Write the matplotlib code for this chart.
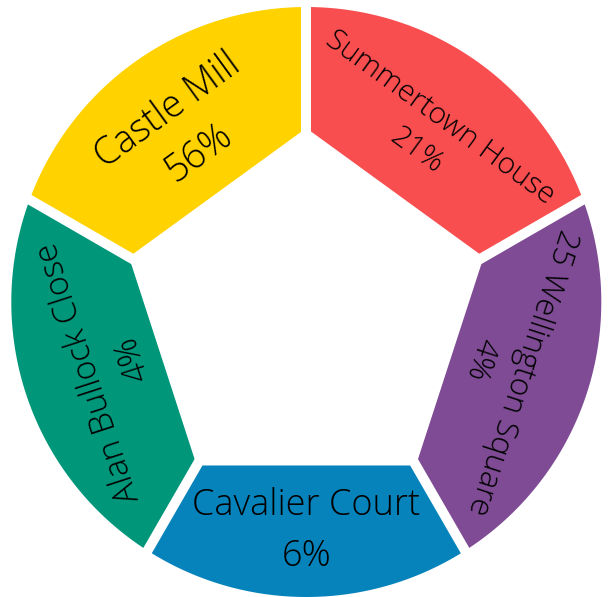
import matplotlib.pyplot as plt
import numpy as np
from matplotlib.patches import Polygon

# segments, clockwise from the top
names = ["Summertown House", "25 Wellington Square", "Cavalier Court",
         "Alan Bullock Close", "Castle Mill"]
shares = [21, 4, 6, 4, 56]
colors = ["#F84E4F", "#7E4B94", "#0783BB", "#00967A", "#FFD200"]

# layout (pixel units, origin at circle centre)
OUTER_R = 295.0
HOLE_CENTER = np.array([0.0, -12.6])
HOLE_R = 186.5
GAP_DIRS = [90, 30, -60, -120, 150]
GAP_PX = 10
LABEL_R = [207, 205, 229, 206, 210]
LABEL_SIZE = [21.5, 22.5, 26, 24, 27]


def unit(deg):
    a = np.deg2rad(deg)
    return np.array([np.cos(a), np.sin(a)])


def ray_to_circle(p, d, r):
    b = p @ d
    c = p @ p - r * r
    t = -b + np.sqrt(b * b - c)
    return p + t * d


n = len(names)
step = 360.0 / n
vert_ang = [90 - step * k for k in range(n)]
verts = [HOLE_CENTER + HOLE_R * unit(a) for a in vert_ang]
outer = [ray_to_circle(v, unit(g), OUTER_R) for v, g in zip(verts, GAP_DIRS)]

fig = plt.figure(figsize=(6.13, 5.97), dpi=100)
ax = fig.add_axes([0, 0, 1, 1])
ax.set_xlim(-306.3, 306.7)
ax.set_ylim(-295, 302)
ax.axis("off")

for i in range(n):
    j = (i + 1) % n
    a0 = np.degrees(np.arctan2(outer[i][1], outer[i][0]))
    a1 = np.degrees(np.arctan2(outer[j][1], outer[j][0]))
    while a1 > a0:
        a1 -= 360
    arc = np.array([OUTER_R * unit(a) for a in np.linspace(a0, a1, 80)])
    pts = np.vstack([verts[i], arc, verts[j]])
    ax.add_patch(Polygon(pts, closed=True, facecolor=colors[i], edgecolor="none"))

# white gaps between segments
lw = GAP_PX * 72 / fig.dpi
for v, g in zip(verts, GAP_DIRS):
    d = unit(g)
    p0 = v - 15 * d
    p1 = v + 200 * d
    ax.plot([p0[0], p1[0]], [p0[1], p1[1]], color="white", lw=lw,
            solid_capstyle="butt", zorder=3)

for i in range(n):
    mid = 90 - step * i - step / 2
    rot = (mid - 90 + 180) % 360 - 180
    if abs(rot) > 135:
        rot = (rot + 180 + 180) % 360 - 180
    pos = LABEL_R[i] * unit(mid)
    ax.text(pos[0], pos[1], f"{names[i]}\n{shares[i]}%", rotation=rot,
            rotation_mode="anchor", ha="center", va="center",
            fontsize=LABEL_SIZE[i], family="Open Sans", weight="light",
            color="black", linespacing=1.5, zorder=4)

fig.savefig("out.png", dpi=100)
